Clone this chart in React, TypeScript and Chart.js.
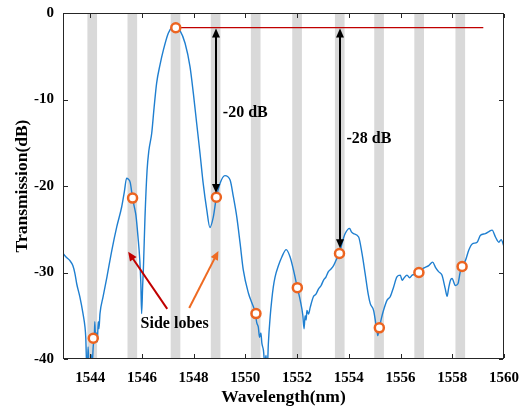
import React, { useEffect, useRef } from 'react';
import { Chart, registerables } from 'chart.js';

Chart.register(...registerables);

// ---- data ----
const wavelength = [
  1542.95, 1543.10, 1543.21, 1543.33, 1543.41, 1543.48, 1543.60, 1543.72, 1543.80, 1543.83,
  1543.87, 1543.90, 1543.92, 1543.95, 1543.99, 1544.04, 1544.08, 1544.12, 1544.16, 1544.18,
  1544.21, 1544.25, 1544.28, 1544.31, 1544.34, 1544.38, 1544.50, 1544.65, 1544.84, 1545.03,
  1545.22, 1545.32, 1545.41, 1545.47, 1545.55, 1545.64, 1545.72, 1545.77, 1545.85, 1545.92,
  1545.96, 1545.99, 1546.03, 1546.06, 1546.12, 1546.20, 1546.27, 1546.38, 1546.47, 1546.57,
  1546.70, 1546.83, 1547.02, 1547.16, 1547.31, 1547.47, 1547.67, 1547.86, 1547.99, 1548.12,
  1548.25, 1548.37, 1548.51, 1548.63, 1548.76, 1548.88, 1549.02, 1549.21, 1549.41, 1549.54,
  1549.67, 1549.80, 1549.92, 1550.12, 1550.25, 1550.38, 1550.44, 1550.50, 1550.55, 1550.60,
  1550.64, 1550.70, 1550.75, 1550.80, 1550.83, 1550.86, 1550.89, 1550.96, 1551.02, 1551.08,
  1551.15, 1551.28, 1551.41, 1551.58, 1551.73, 1551.86, 1552.01, 1552.12, 1552.22, 1552.27,
  1552.31, 1552.35, 1552.38, 1552.44, 1552.51, 1552.63, 1552.73, 1552.83, 1552.93, 1553.02,
  1553.12, 1553.21, 1553.31, 1553.41, 1553.52, 1553.64, 1553.73, 1553.86, 1554.03, 1554.10,
  1554.18, 1554.38, 1554.51, 1554.63, 1554.75, 1554.83, 1554.96, 1555.05, 1555.09, 1555.12,
  1555.18, 1555.26, 1555.34, 1555.48, 1555.60, 1555.73, 1555.86, 1555.99, 1556.06, 1556.12,
  1556.25, 1556.35, 1556.45, 1556.58, 1556.71, 1556.89, 1557.09, 1557.24, 1557.35, 1557.47,
  1557.60, 1557.73, 1557.80, 1557.86, 1557.93, 1557.99, 1558.12, 1558.22, 1558.31, 1558.38,
  1558.51, 1558.64, 1558.77, 1558.96, 1559.09, 1559.28, 1559.40, 1559.54, 1559.67, 1559.80,
  1559.89, 1560.00,
];
const transmission = [
  -27.8, -28.3, -28.6, -29.2, -30.1, -31.3, -32.8, -34.7, -36.3, -37.5,
  -41.0, -40.5, -38.6, -40.5, -41.0, -39.5, -40.5, -38.5, -37.5, -35.7,
  -37.8, -37.0, -38.0, -35.7, -36.5, -34.75, -32.8, -30.5, -27.4, -24.7,
  -22.4, -20.7, -19.1, -19.2, -19.6, -21.4, -22.6, -23.4, -25.9, -28.6,
  -31.3, -34.75, -31.5, -29.4, -23.6, -18.2, -15.9, -13.9, -11.0, -8.1,
  -6.0, -4.3, -2.35, -1.7, -1.6, -2.0, -3.5, -6.2, -9.3, -12.8,
  -16.3, -19.7, -22.8, -24.8, -23.6, -21.3, -19.7, -18.8, -19.3, -21.3,
  -23.6, -26.7, -29.7, -32.4, -33.5, -34.6, -35.8, -36.3, -37.5, -37.0,
  -38.2, -39.0, -40.5, -39.6, -41.0, -40.5, -38.2, -35.1, -33.2, -31.7,
  -30.5, -29.2, -28.2, -27.35, -28.2, -29.7, -31.75, -33.2, -34.9, -36.5,
  -35.0, -35.5, -34.4, -34.8, -34.0, -32.8, -32.5, -31.9, -31.5, -30.9,
  -30.5, -29.9, -29.6, -29.2, -28.5, -27.8, -26.7, -25.5, -24.9, -25.3,
  -25.5, -25.9, -27.8, -30.1, -32.5, -33.6, -34.4, -36.0, -36.7, -37.3,
  -36.4, -35.3, -34.4, -33.2, -32.8, -31.7, -30.5, -30.3, -30.9, -30.7,
  -30.3, -30.6, -30.3, -30.2, -30.0, -29.5, -29.2, -28.8, -29.4, -29.9,
  -30.3, -31.9, -32.75, -31.8, -30.9, -30.7, -31.5, -31.3, -29.9, -29.3,
  -28.6, -27.4, -26.7, -26.5, -25.7, -25.5, -25.3, -25.1, -25.9, -26.5,
  -26.2, -27.0,
];
const markerWavelength = [1544.12, 1545.64, 1547.31, 1548.88, 1550.41, 1552.01, 1553.64, 1555.18, 1556.71, 1558.38];
const markerTransmission = [-37.6, -21.4, -1.7, -21.3, -34.75, -31.75, -27.8, -36.4, -30.0, -29.3];
const bandCenters = [1544.08, 1545.63, 1547.3, 1548.85, 1550.4, 1552.0, 1553.65, 1555.17, 1556.72, 1558.31];
const xTickValues = [1544, 1546, 1548, 1550, 1552, 1554, 1556, 1558, 1560];
const yTickValues = [0, -10, -20, -30, -40];
const referenceLineX = [1547.31, 1559.2];
const referenceLineY = [-1.7, -1.7];
const dbArrowX = [1548.88, 1553.66];
const dbArrowTop = [-1.8, -1.8];
const dbArrowBottom = [-20.8, -27.2];
const dbLabels = ['-20 dB', '-28 dB'];
const dbLabelX = [1549.13, 1553.91];
const dbLabelY = [-11.6, -14.5];
const sideLobeLabel = 'Side lobes';
const sideLobeLabelPos = [1545.95, -35.9];
const sideArrowTail = [[1546.98, -34.2], [1547.83, -34.1]];
const sideArrowTip = [[1545.47, -27.6], [1548.96, -27.5]];

const FONT = '"Liberation Serif", "Times New Roman", serif';

function drawHead(ctx: CanvasRenderingContext2D, x1: number, y1: number, x2: number, y2: number, len: number, half: number) {
  const a = Math.atan2(y2 - y1, x2 - x1);
  ctx.beginPath();
  ctx.moveTo(x2, y2);
  ctx.lineTo(x2 - len * Math.cos(a) + half * Math.sin(a), y2 - len * Math.sin(a) - half * Math.cos(a));
  ctx.lineTo(x2 - len * Math.cos(a) - half * Math.sin(a), y2 - len * Math.sin(a) + half * Math.cos(a));
  ctx.closePath();
  ctx.fill();
}

function drawArrow(ctx: CanvasRenderingContext2D, x1: number, y1: number, x2: number, y2: number, color: string, width: number, both: boolean) {
  const len = 9, half = 4;
  const a = Math.atan2(y2 - y1, x2 - x1);
  ctx.save();
  ctx.strokeStyle = color;
  ctx.fillStyle = color;
  ctx.lineWidth = width;
  ctx.beginPath();
  const sx = both ? x1 + (len - 2) * Math.cos(a) : x1;
  const sy = both ? y1 + (len - 2) * Math.sin(a) : y1;
  ctx.moveTo(sx, sy);
  ctx.lineTo(x2 - (len - 2) * Math.cos(a), y2 - (len - 2) * Math.sin(a));
  ctx.stroke();
  drawHead(ctx, x1, y1, x2, y2, len, half);
  if (both) drawHead(ctx, x2, y2, x1, y1, len, half);
  ctx.restore();
}

function drawFrame(chart: any) {
  const ctx: CanvasRenderingContext2D = chart.ctx;
  const xs = chart.scales.x, ys = chart.scales.y;
  const l = Math.round(xs.left);
  const r = Math.round(xs.right) - 1;
  const t = Math.round(ys.top);
  const b = Math.round(ys.bottom) - 1;
  ctx.save();
  ctx.fillStyle = '#262626';
  ctx.fillRect(l, t, r - l + 1, 1);
  ctx.fillRect(l, b, r - l + 1, 1);
  ctx.fillRect(l, t, 1, b - t + 1);
  ctx.fillRect(r, t, 1, b - t + 1);
  const tl = 4;
  for (const v of xTickValues) {
    const px = Math.round(xs.getPixelForValue(v));
    ctx.fillRect(px, b - tl, 1, tl);
    ctx.fillRect(px, t + 1, 1, tl);
  }
  for (const v of yTickValues) {
    const py = Math.round(ys.getPixelForValue(v));
    ctx.fillRect(l + 1, py, tl, 1);
    ctx.fillRect(r - tl, py, tl, 1);
  }
  ctx.restore();
}

const annotationPlugin = {
  id: 'annotations',
  afterDatasetsDraw(chart: any) {
    const { ctx, scales } = chart;
    const xs = scales.x, ys = scales.y;
    for (let i = 0; i < dbArrowX.length; i++) {
      const px = Math.round(xs.getPixelForValue(dbArrowX[i]));
      drawArrow(ctx, px, ys.getPixelForValue(dbArrowTop[i]), px, ys.getPixelForValue(dbArrowBottom[i]), '#000', 2, true);
    }
    const sideColors = ['#c00000', '#ee6a22'];
    for (let i = 0; i < sideArrowTail.length; i++) {
      drawArrow(ctx,
        xs.getPixelForValue(sideArrowTail[i][0]), ys.getPixelForValue(sideArrowTail[i][1]),
        xs.getPixelForValue(sideArrowTip[i][0]), ys.getPixelForValue(sideArrowTip[i][1]),
        sideColors[i], 2, false);
    }
    ctx.save();
    ctx.fillStyle = '#000';
    ctx.font = `bold 16px ${FONT}`;
    ctx.textAlign = 'left';
    ctx.textBaseline = 'middle';
    for (let i = 0; i < dbLabels.length; i++) {
      ctx.fillText(dbLabels[i], xs.getPixelForValue(dbLabelX[i]), ys.getPixelForValue(dbLabelY[i]));
    }
    ctx.fillText(sideLobeLabel, xs.getPixelForValue(sideLobeLabelPos[0]), ys.getPixelForValue(sideLobeLabelPos[1]));
    ctx.restore();
  },
  afterDraw(chart: any) {
    drawFrame(chart);
  },
};

export default function App() {
  const canvasRef = useRef<HTMLCanvasElement | null>(null);

  useEffect(() => {
    const canvas = canvasRef.current;
    if (!canvas) return;
    const tickFont = { family: FONT, size: 15, weight: 'bold' as const };
    const titleFont = { family: FONT, size: 17.5, weight: 'bold' as const };
    const chart = new Chart(canvas, {
      type: 'line',
      data: {
        datasets: [
          {
            type: 'bar',
            data: bandCenters.map((c) => ({ x: c, y: [-40, 0] })) as any,
            backgroundColor: '#d9d9d9',
            borderWidth: 0,
            barThickness: 9,
            grouped: false,
            order: 5,
          } as any,
          {
            type: 'line',
            data: wavelength.map((w, i) => ({ x: w, y: transmission[i] })),
            borderColor: '#1f7fd0',
            borderWidth: 1.4,
            pointRadius: 0,
            cubicInterpolationMode: 'monotone',
            order: 4,
          },
          {
            type: 'line',
            data: referenceLineX.map((w, i) => ({ x: w, y: referenceLineY[i] })),
            borderColor: '#c00000',
            borderWidth: 1.3,
            pointRadius: 0,
            order: 3,
          },
          {
            type: 'line',
            data: markerWavelength.map((w, i) => ({ x: w, y: markerTransmission[i] })),
            showLine: false,
            pointRadius: 4.5,
            pointBorderWidth: 2.5,
            pointBorderColor: '#ec6420',
            pointBackgroundColor: '#ffffff',
            order: 1,
          },
        ],
      },
      options: {
        animation: false,
        responsive: true,
        maintainAspectRatio: false,
        layout: { padding: { top: 13, right: 24, left: 0, bottom: 0 } },
        plugins: { legend: { display: false }, tooltip: { enabled: false } },
        scales: {
          x: {
            type: 'linear',
            min: 1542.95,
            max: 1560,
            offset: false,
            grid: { display: false },
            border: { display: false },
            ticks: {
              font: tickFont, color: '#000', padding: 2.5, maxRotation: 0, autoSkip: false,
              callback: (v: any) => String(v),
            },
            afterBuildTicks: (s: any) => { s.ticks = xTickValues.map((v) => ({ value: v })); },
            afterFit: (s: any) => { s.height = 50; },
            title: { display: true, text: 'Wavelength(nm)', font: titleFont, color: '#000', padding: { top: 0, bottom: 1.5 } },
          },
          y: {
            type: 'linear',
            min: -40,
            max: 0,
            grid: { display: false },
            border: { display: false },
            ticks: { font: tickFont, color: '#000', padding: 1, callback: (v: any) => String(v) },
            afterBuildTicks: (s: any) => { s.ticks = yTickValues.map((v) => ({ value: v })); },
            afterFit: (s: any) => { s.width = 63; },
            title: { display: true, text: 'Transmission(dB)', font: titleFont, color: '#000', padding: { top: 12, bottom: 0 } },
          },
        },
      },
      plugins: [annotationPlugin],
    });
    return () => chart.destroy();
  }, []);

  return (
    <div style={{ position: 'fixed', left: 0, top: 0, width: 528, height: 409, background: '#fff' }}>
      <canvas ref={canvasRef} />
    </div>
  );
}
